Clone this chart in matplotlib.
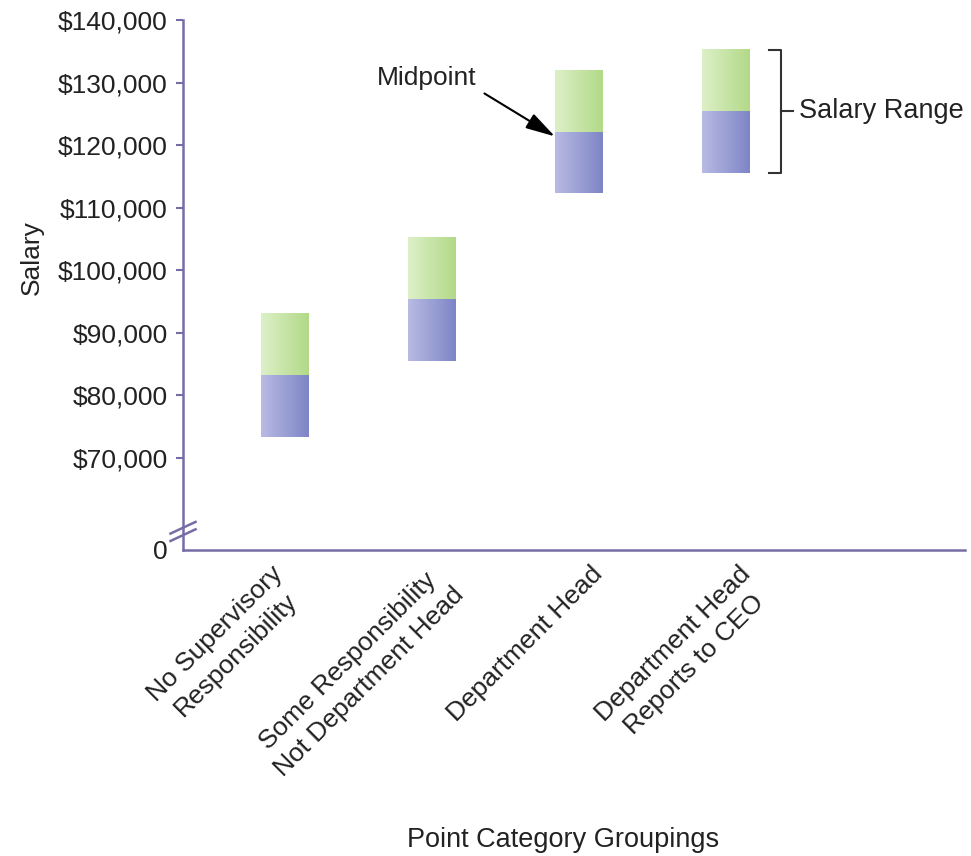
import numpy as np
import matplotlib.pyplot as plt
import matplotlib.transforms as mtransforms
from matplotlib.colors import LinearSegmentedColormap

plt.rcParams['font.family'] = ['Liberation Sans', 'DejaVu Sans']

# --- data ---
categories = [
    "No Supervisory\nResponsibility",
    "Some Responsibility\nNot Department Head",
    "Department Head",
    "Department Head\nReports to CEO",
]
range_min = [73400, 85500, 112400, 115600]
range_mid = [83300, 95400, 122100, 125400]
range_max = [93200, 105200, 131900, 135200]
y_ticks = [70000, 80000, 90000, 100000, 110000, 120000, 130000, 140000]
y_floor = 55300  # value position where the "0" sits below the axis break

# --- styling ---
axis_color = '#786ca6'
text_color = '#222222'
fs = 19
bar_w = 0.32
label_nudge = [-14, -1, 12, 13]  # px, sideways shift of each rotated label

green_cmap = LinearSegmentedColormap.from_list('green_grad', ['#ddf0c8', '#b2d987'])
blue_cmap = LinearSegmentedColormap.from_list('blue_grad', ['#b9bbe3', '#7d85c6'])
grad = np.linspace(0, 1, 256).reshape(1, -1)

fig = plt.figure(figsize=(9.71, 8.56), dpi=100)
ax = fig.add_axes([0.1885, 0.3575, 0.8053, 0.6191])

x = np.arange(len(categories))
for xi, lo, mid, hi in zip(x, range_min, range_mid, range_max):
    ax.imshow(grad, cmap=blue_cmap, extent=[xi - bar_w / 2, xi + bar_w / 2, lo, mid],
              aspect='auto', interpolation='bicubic', zorder=2)
    ax.imshow(grad, cmap=green_cmap, extent=[xi - bar_w / 2, xi + bar_w / 2, mid, hi],
              aspect='auto', interpolation='bicubic', zorder=2)

ax.set_xlim(-0.69, 4.63)
ax.set_ylim(y_floor, 140000)

# axes styling
for side in ['top', 'right']:
    ax.spines[side].set_visible(False)
for side in ['left', 'bottom']:
    ax.spines[side].set_color(axis_color)
    ax.spines[side].set_linewidth(1.8)

ax.set_yticks([y_floor] + y_ticks, ['0'] + [f'${v:,.0f}' for v in y_ticks])
ax.tick_params(axis='y', length=5, width=1.5, color=axis_color, labelcolor=text_color,
               labelsize=fs, pad=6)
ax.yaxis.get_major_ticks()[0].tick1line.set_visible(False)
ax.set_xticks([])

# axis break marks on the y axis
for yb in [0.028, 0.042]:
    ax.plot([-0.016, 0.016], [yb - 0.011, yb + 0.011], transform=ax.transAxes,
            color=axis_color, lw=1.8, clip_on=False, zorder=5)

# category labels, rotated
for xi, lab, nudge in zip(x, categories, label_nudge):
    trans = mtransforms.blended_transform_factory(ax.transData, ax.transAxes) + \
        mtransforms.ScaledTranslation(nudge / 100, -12 / 100, fig.dpi_scale_trans)
    ax.text(xi, 0, lab, transform=trans, rotation=45, rotation_mode='anchor',
            ha='right', va='top', multialignment='center', linespacing=1.3,
            fontsize=fs, color=text_color)

ax.set_ylabel('Salary', fontsize=fs, color=text_color)
ax.yaxis.set_label_coords(-0.178, 0.551)
fig.text(563 / 971, 1 - 840 / 856, 'Point Category Groupings', ha='center', va='center',
         fontsize=19.5, color=text_color)

# midpoint callout
ax.annotate('Midpoint', xy=(2 - bar_w / 2, range_mid[2] - 700), xytext=(-92, 42),
            textcoords='offset points', ha='center', va='center', fontsize=fs,
            color=text_color,
            arrowprops=dict(arrowstyle='-|>,head_length=0.9,head_width=0.25',
                            mutation_scale=20, color='black', lw=1.5,
                            relpos=(1, 0.05), shrinkA=4, shrinkB=0))

# salary range bracket next to the last bar
bx = x[-1] + 0.38
ax.plot([bx - 0.08, bx, bx, bx - 0.08],
        [range_max[-1], range_max[-1], range_min[-1], range_min[-1]],
        color='#333333', lw=1.5, clip_on=False)
bmid = (range_max[-1] + range_min[-1]) / 2
ax.plot([bx, bx + 0.08], [bmid, bmid], color='#333333', lw=1.5, clip_on=False)
ax.text(bx + 0.12, bmid, 'Salary Range', ha='left', va='center', fontsize=19.5,
        color=text_color)

fig.savefig('out.png', dpi=100)
